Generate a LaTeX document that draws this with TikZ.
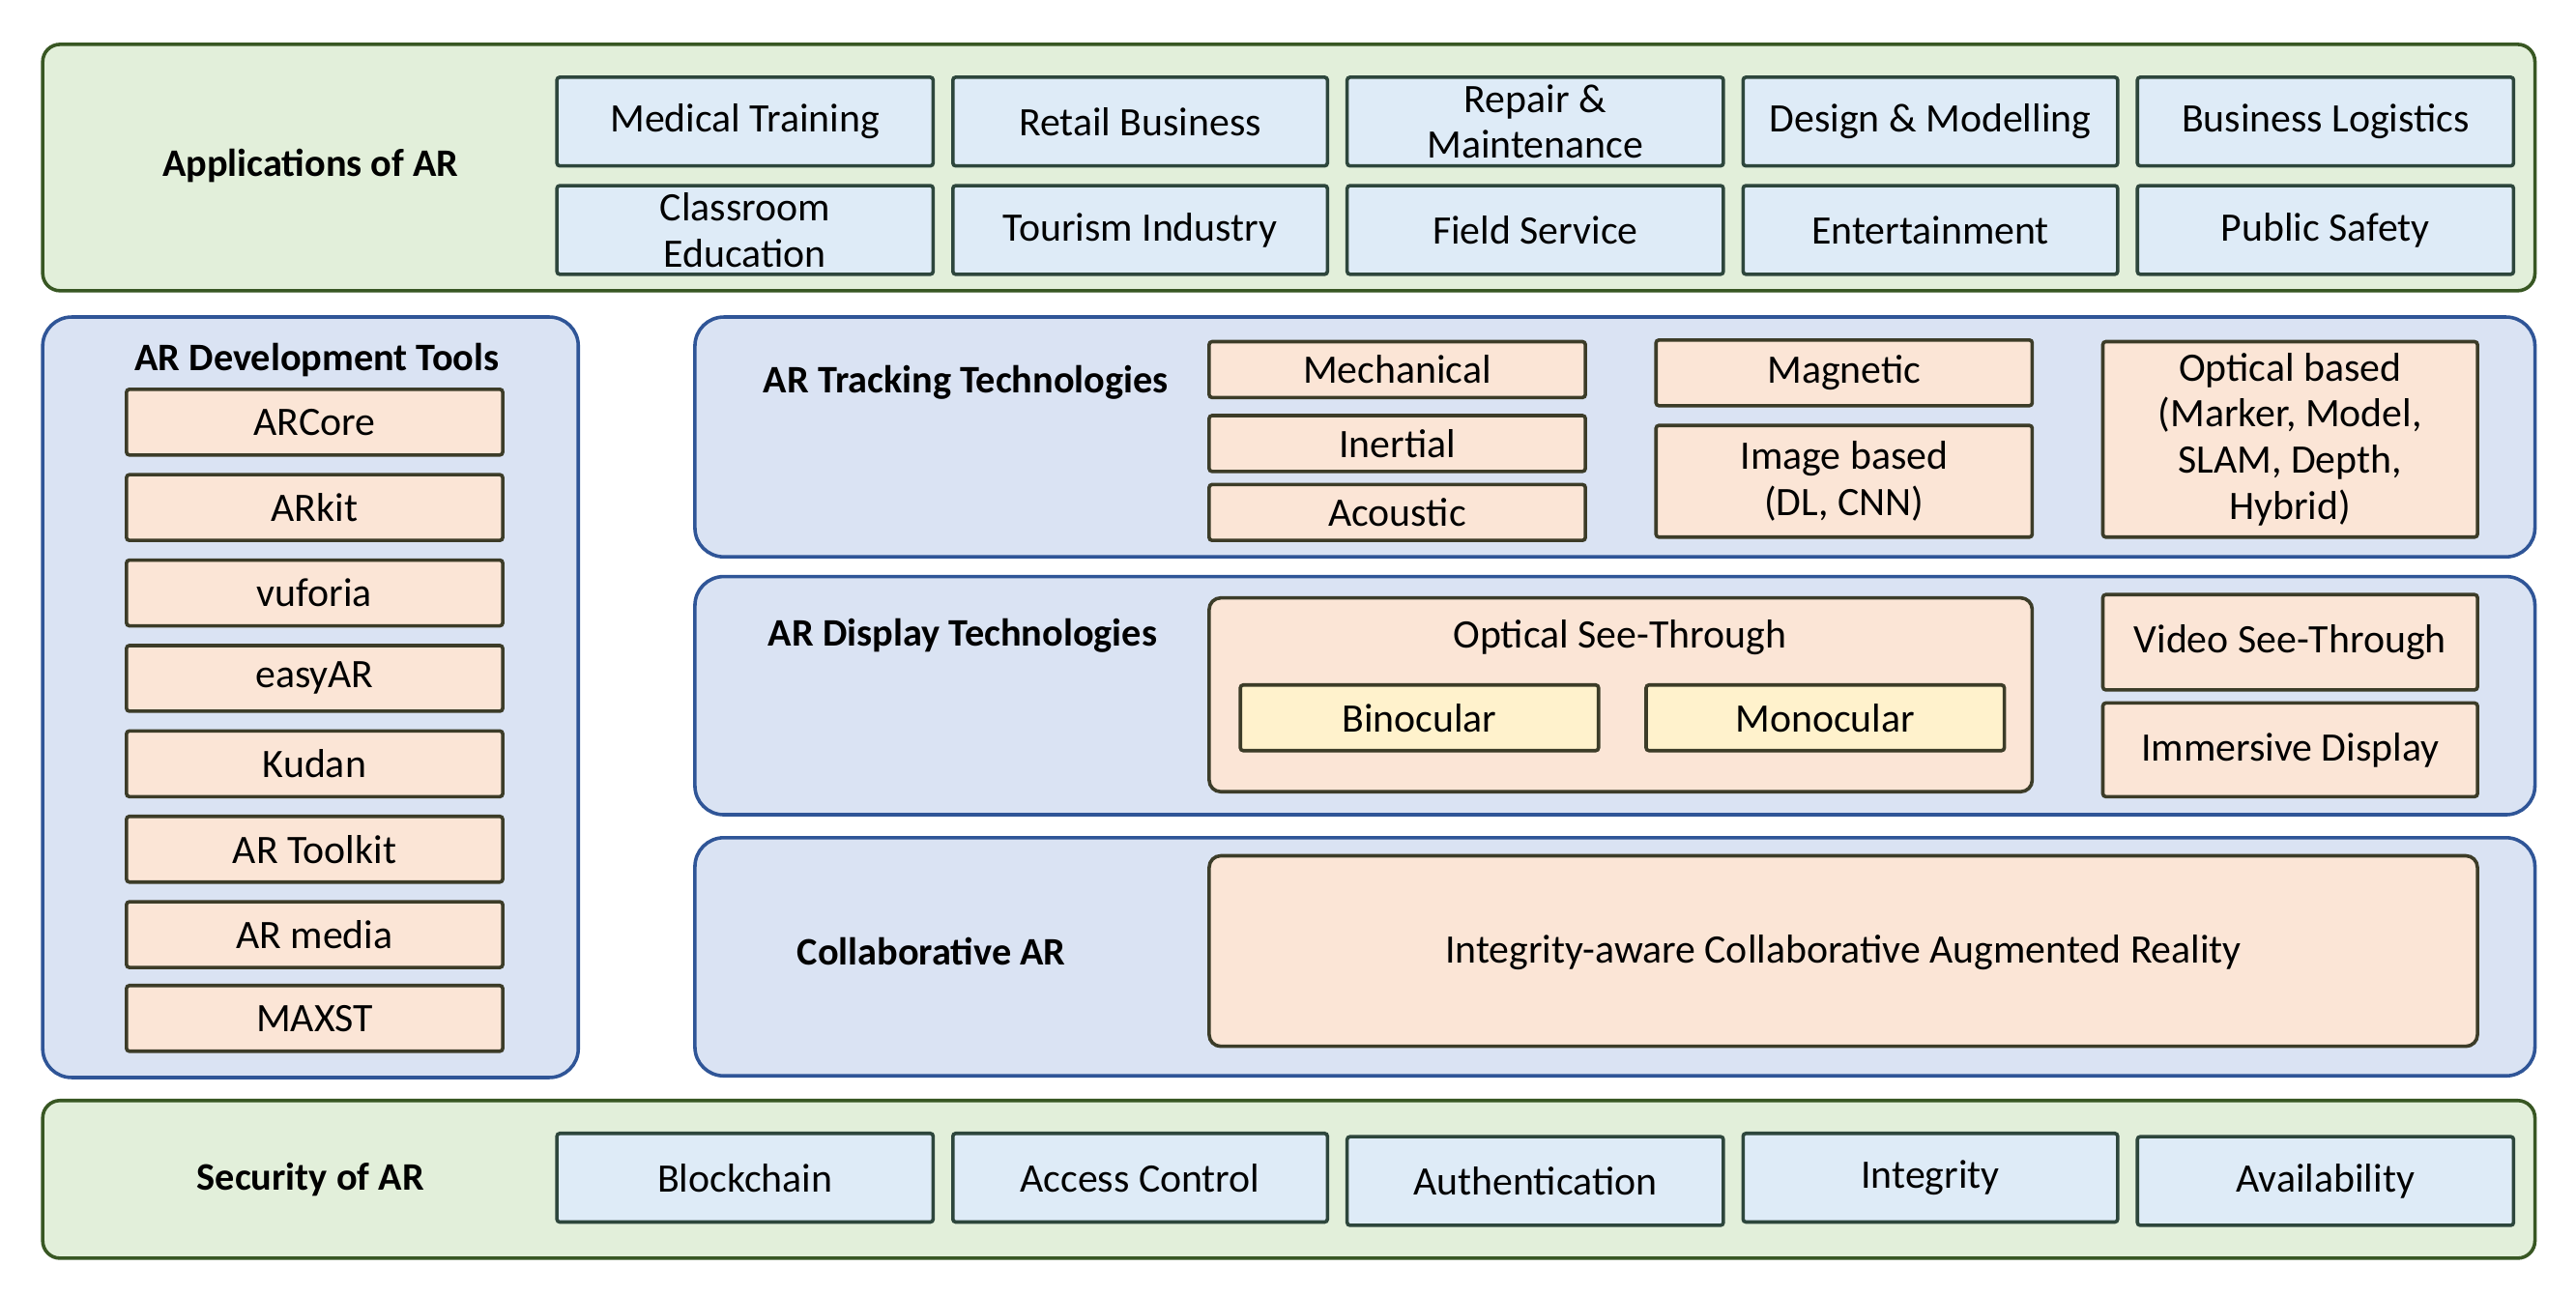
\documentclass[tikz,border=0pt]{standalone}
\usepackage{fontspec}
\setmainfont{Carlito}
\definecolor{gfill}{RGB}{226,239,218}
\definecolor{gdraw}{RGB}{56,87,35}
\definecolor{pfill}{RGB}{218,227,243}
\definecolor{pdraw}{RGB}{47,85,151}
\begin{document}
\begin{tikzpicture}[x=0.02cm,y=-0.02cm,
 green/.style={draw=gdraw,fill=gfill,line width=1.2pt,rounded corners=6pt},
 panel/.style={draw=pdraw,fill=pfill,line width=1.2pt,rounded corners=10pt},
 app/.style={draw={rgb,255:red,45;green,70;blue,60},fill={rgb,255:red,222;green,235;blue,247},line width=1.2pt,rounded corners=1pt},
 item/.style={draw={rgb,255:red,60;green,60;blue,40},fill={rgb,255:red,251;green,229;blue,214},line width=1.2pt,rounded corners=1pt},
 yel/.style={draw={rgb,255:red,60;green,60;blue,40},fill={rgb,255:red,255;green,242;blue,204},line width=1.2pt,rounded corners=1pt},
 lab/.style={font=\fontsize{14}{16}\selectfont,align=center},
 ttl/.style={font=\fontsize{13.5}{16}\selectfont\bfseries,align=center}]
\useasboundingbox (0,0) rectangle (1568,788);
\newcommand\bx[7]{\draw[#1] (#2,#3) rectangle (#4,#5); \node[lab] (#6) at ({(#2+#4)/2},{(#3+#5)/2}) {#7};}
% Applications
\draw[green] (26,27) rectangle (1543,177);
\node[ttl] (appt) at (189,101) {Applications of AR};
\bx{app}{339}{47}{568}{101}{a1}{Medical Training}
\bx{app}{580}{47}{808}{101}{a2}{Retail Business}
\bx{app}{820}{47}{1049}{101}{a3}{Repair \&\\Maintenance}
\bx{app}{1061}{47}{1289}{101}{a4}{Design \& Modelling}
\bx{app}{1301}{47}{1530}{101}{a5}{Business Logistics}
\bx{app}{339}{113}{568}{167}{a6}{Classroom\\Education}
\bx{app}{580}{113}{808}{167}{a7}{Tourism Industry}
\bx{app}{820}{113}{1049}{167}{a8}{Field Service}
\bx{app}{1061}{113}{1289}{167}{a9}{Entertainment}
\bx{app}{1301}{113}{1530}{167}{a10}{Public Safety}
% Dev tools
\draw[panel] (26,193) rectangle (352,656);
\node[ttl] (devt) at (193,219) {AR Development Tools};
\bx{item}{77}{237}{306}{277}{d1}{ARCore}
\bx{item}{77}{289}{306}{329}{d2}{ARkit}
\bx{item}{77}{341}{306}{381}{d3}{vuforia}
\bx{item}{77}{393}{306}{433}{d4}{easyAR}
\bx{item}{77}{445}{306}{485}{d5}{Kudan}
\bx{item}{77}{497}{306}{537}{d6}{AR Toolkit}
\bx{item}{77}{549}{306}{589}{d7}{AR media}
\bx{item}{77}{600}{306}{640}{d8}{MAXST}
% Tracking
\draw[panel] (423,193) rectangle (1543,339);
\node[ttl] (trt) at (588,233) {AR Tracking Technologies};
\bx{item}{736}{208}{965}{242}{t1}{Mechanical}
\bx{item}{736}{253}{965}{287}{t2}{Inertial}
\bx{item}{736}{295}{965}{329}{t3}{Acoustic}
\bx{item}{1008}{207}{1237}{247}{t4}{Magnetic}
\bx{item}{1008}{259}{1237}{327}{t5}{Image based\\(DL, CNN)}
\bx{item}{1280}{208}{1508}{327}{t6}{Optical based\\(Marker, Model,\\SLAM, Depth,\\Hybrid)}
% Display
\draw[panel] (423,351) rectangle (1543,496);
\node[ttl] (dit) at (586,387) {AR Display Technologies};
\draw[item,rounded corners=4pt] (736,364) rectangle (1237,482);
\node[lab] (ost) at (986,388) {Optical See-Through};
\bx{yel}{755}{417}{973}{457}{o1}{Binocular}
\bx{yel}{1002}{417}{1220}{457}{o2}{Monocular}
\bx{item}{1280}{362}{1508}{420}{v1}{Video See-Through}
\bx{item}{1280}{428}{1508}{485}{v2}{Immersive Display}
% Collaborative
\draw[panel] (423,510) rectangle (1543,655);
\node[ttl] (cot) at (567,579) {Collaborative AR};
\draw[item,rounded corners=4pt] (736,521) rectangle (1508,637);
\node[lab] (ic) at (1122,580) {Integrity-aware Collaborative Augmented Reality};
% Security
\draw[green] (26,670) rectangle (1543,766);
\node[ttl] (sect) at (189,718) {Security of AR};
\bx{app}{339}{690}{568}{744}{s1}{Blockchain}
\bx{app}{580}{690}{808}{744}{s2}{Access Control}
\bx{app}{820}{692}{1049}{746}{s3}{Authentication}
\bx{app}{1061}{690}{1289}{744}{s4}{Integrity}
\bx{app}{1301}{692}{1530}{746}{s5}{Availability}
\end{tikzpicture}
\end{document}
